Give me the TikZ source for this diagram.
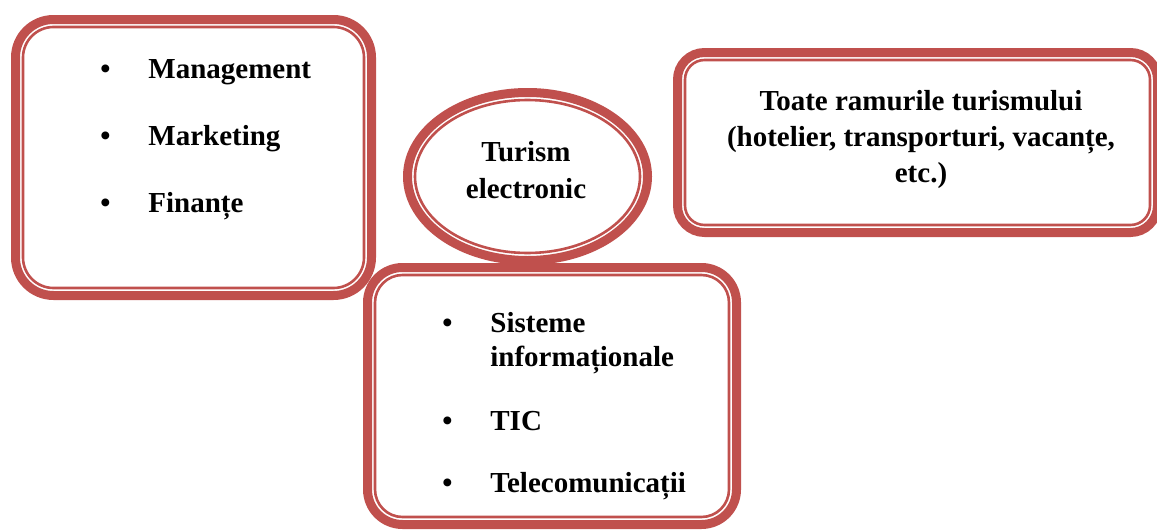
\documentclass[tikz,border=0pt]{standalone}
\usepackage{fontspec}
\setmainfont{Liberation Serif}
\usepackage{tikz}
\usepackage{xcolor}
\usetikzlibrary{calc,shapes.geometric}

\definecolor{accentred}{HTML}{C0504D}
\newcommand{\bul}{\makebox[24pt][l]{\textbullet}}

\begin{document}
\begin{tikzpicture}[x=0.5pt,y=-0.5pt]
    \tikzstyle{every node}=[font=\bfseries\fontsize{14.5}{18.5}\selectfont]
    \tikzstyle{outerbox}=[draw=accentred, line width=4.5pt, inner sep=0pt, outer sep=0pt]
    \tikzstyle{innerline}=[draw=accentred, line width=1.3pt]
    \tikzstyle{item}=[inner sep=0pt, anchor=base west, align=left]
    \useasboundingbox (0,0) rectangle (1157,530);

    % left box
    \node[outerbox, rounded corners=19pt, minimum width=178pt, minimum height=138pt] (fields) at (193.5,157.5) {};
    \draw[innerline, rounded corners=15.25pt] ($(fields.north west)+(7.5,7.5)$) rectangle ($(fields.south east)+(-7.5,-7.5)$);
    \node[item] (mgmt) at (100,78) {\bul Management};
    \node[item] (mkt) at (100,145) {\bul Marketing};
    \node[item] (fin) at (100,212.5) {\bul Finanțe};

    % right box
    \node[outerbox, rounded corners=13.5pt, minimum width=240pt, minimum height=90pt] (branches) at (917.5,142.5) {};
    \draw[innerline, rounded corners=9.75pt] ($(branches.north west)+(7.5,7.5)$) rectangle ($(branches.south east)+(-7.5,-7.5)$);
    \node[anchor=base, align=center, inner sep=0pt, font=\bfseries\fontsize{14.5}{18}\selectfont] (branchtext) at (921,182)
        {Toate ramurile turismului\\(hotelier, transporturi, vacanțe,\\etc.)};

    % centre ellipse
    \node[outerbox, ellipse, minimum width=120pt, minimum height=84pt] (etourism) at (527.5,176.5) {};
    \node[ellipse, draw=accentred, line width=1.3pt, minimum width=112.5pt, minimum height=76.5pt, inner sep=0pt] (etourismin) at (etourism.center) {};
    \node[anchor=base, align=center, inner sep=0pt] (etext) at (526,198) {Turism\\electronic};

    % bottom box
    \node[outerbox, rounded corners=17.5pt, minimum width=184.5pt, minimum height=128.5pt] (tech) at (552,396) {};
    \draw[innerline, rounded corners=13.75pt] ($(tech.north west)+(7.5,7.5)$) rectangle ($(tech.south east)+(-7.5,-7.5)$);
    \node[item, font=\bfseries\fontsize{14.5}{17}\selectfont] (sist) at (442,366) {\bul Sisteme\\\hspace*{24pt}informaționale};
    \node[item] (tic) at (442,430) {\bul TIC};
    \node[item] (telecom) at (442,492) {\bul Telecomunicații};
\end{tikzpicture}
\end{document}
